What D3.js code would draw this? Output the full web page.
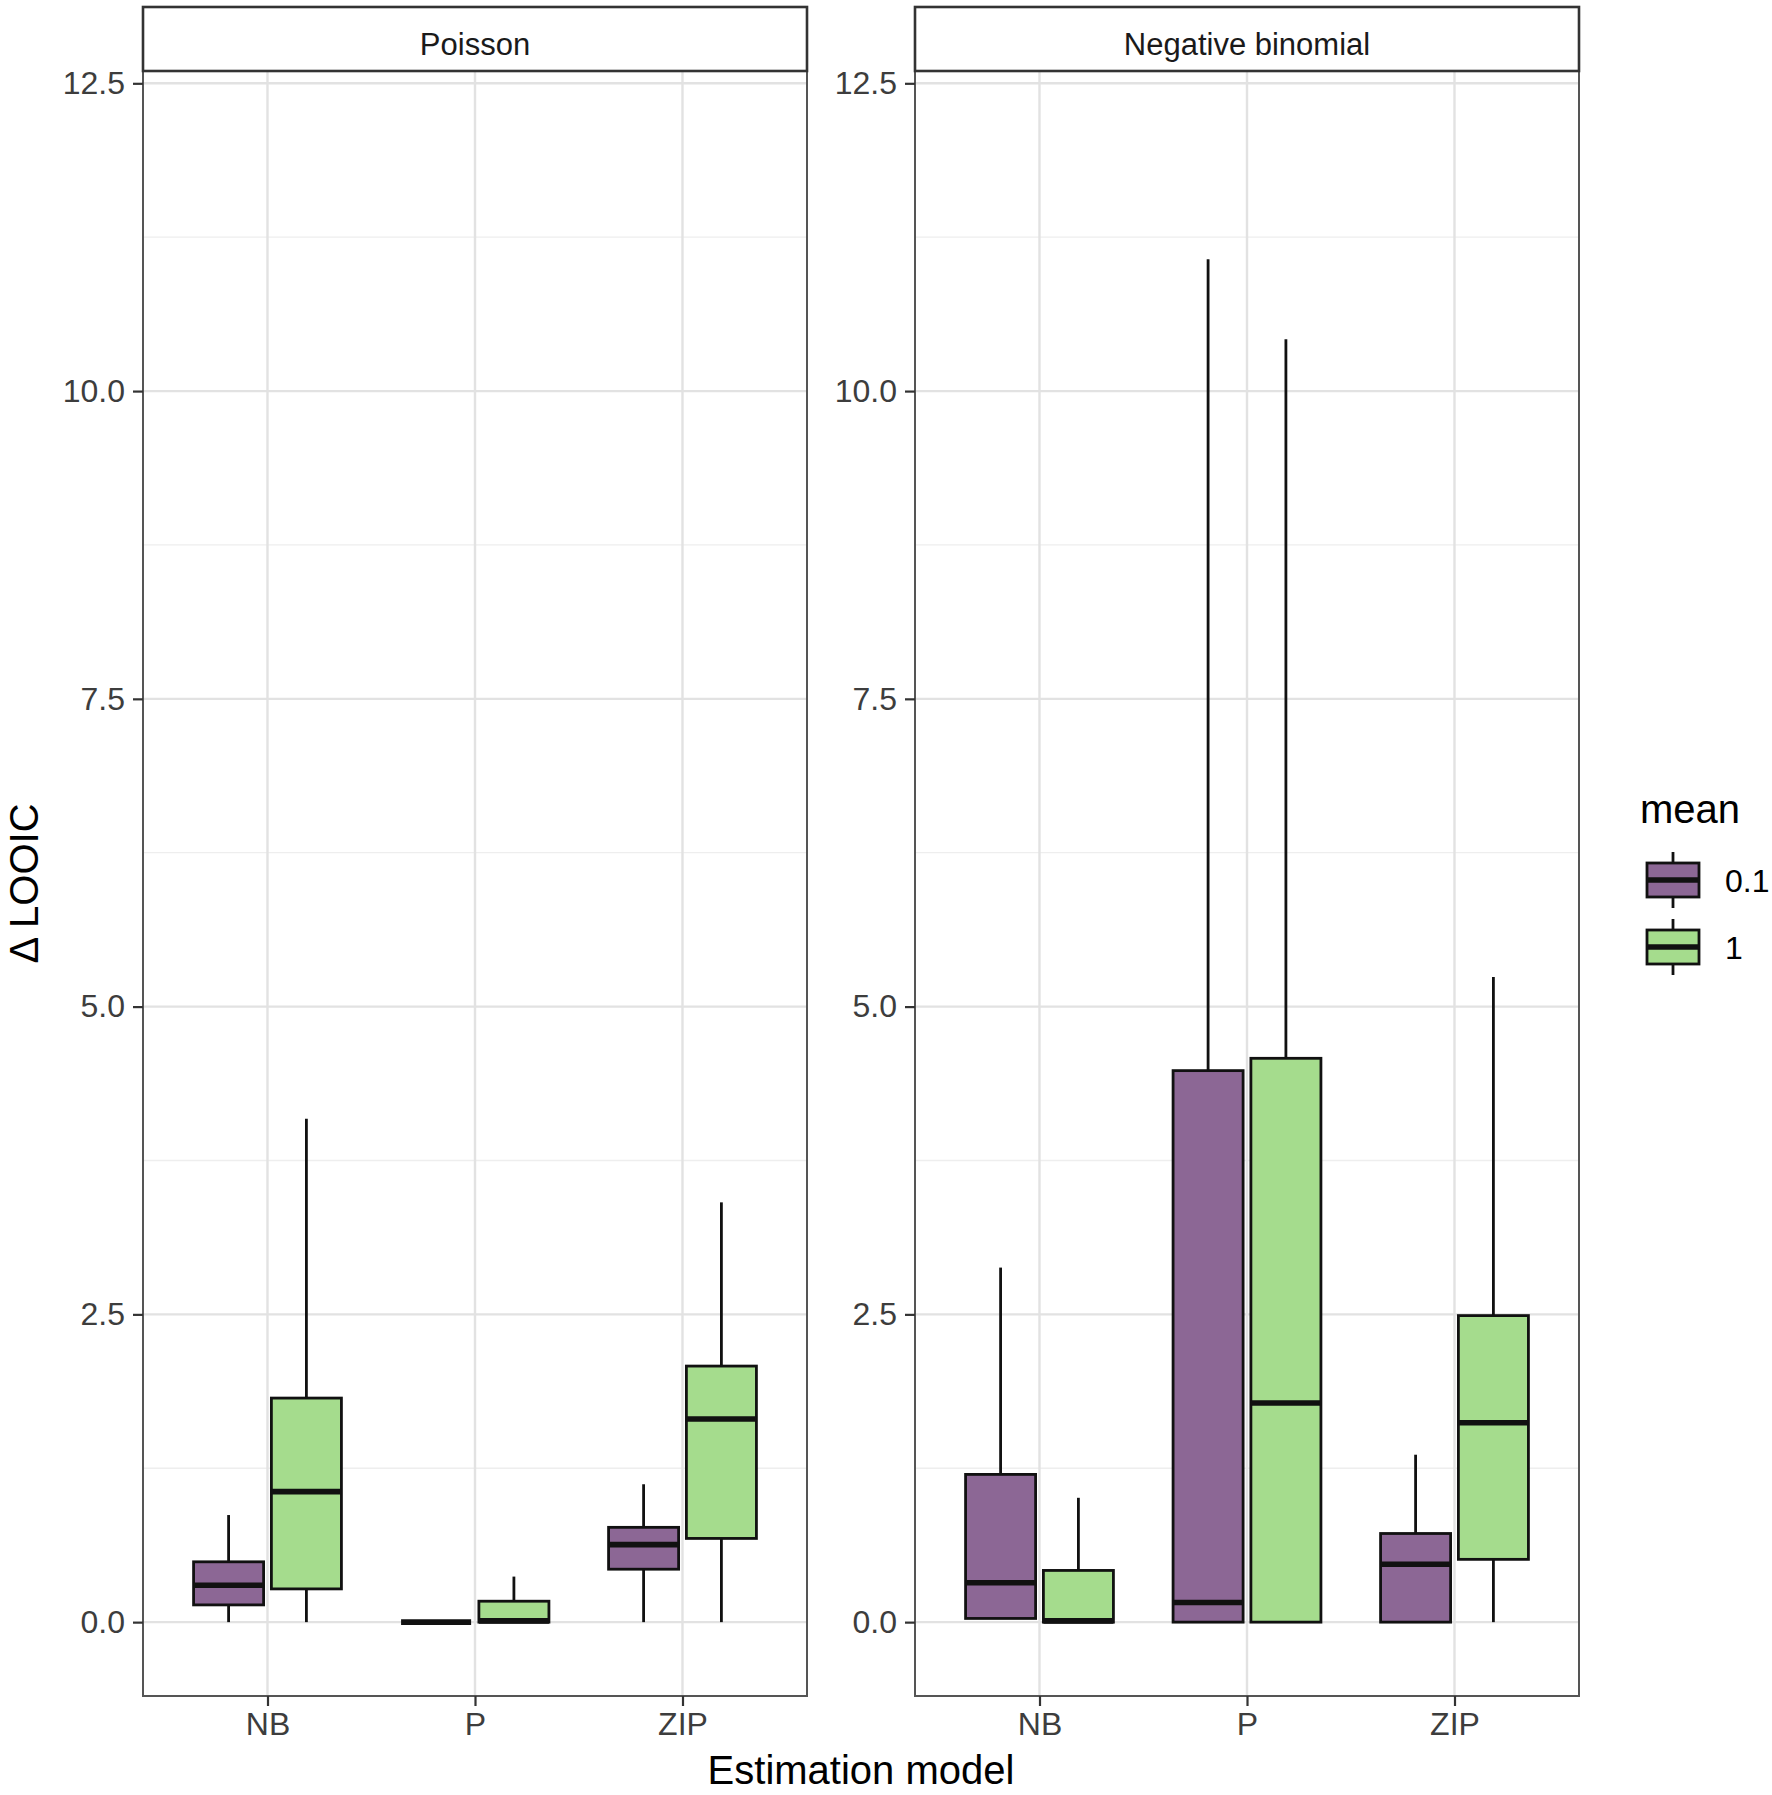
<!DOCTYPE html>
<html>
<head>
<meta charset="utf-8">
<script src="https://cdn.jsdelivr.net/npm/d3@7"></script>
<style>
  body { margin: 0; background: #fff; }
  text { font-family: 'Liberation Sans', Arial, Helvetica, sans-serif; }
</style>
</head>
<body>
<svg width="1772" height="1795"></svg>
<script>
const panels = ['Poisson', 'Negative binomial']
const models = ['NB', 'P', 'ZIP']
const means = ['0.1', '1']
const yTicks = [0, 2.5, 5, 7.5, 10, 12.5]
const yMinor = [1.25, 3.75, 6.25, 8.75, 11.25]
const meanColors = ['#8c6795', '#a5dc8d']

// box stats per model (NB, P, ZIP): [lower, q1, median, q3, upper]
const poissonMean01 = [[0, 0.14, 0.3, 0.49, 0.87], [0, 0, 0, 0, 0], [0, 0.43, 0.63, 0.77, 1.12]]
const poissonMean1 = [[0, 0.27, 1.06, 1.82, 4.09], [0, 0, 0.01, 0.17, 0.37], [0, 0.68, 1.65, 2.08, 3.41]]
const negbinMean01 = [[0.03, 0.03, 0.32, 1.2, 2.88], [0, 0, 0.16, 4.48, 11.07], [0, 0, 0.47, 0.72, 1.36]]
const negbinMean1 = [[0, 0, 0.01, 0.42, 1.01], [0, 0, 1.78, 4.58, 10.42], [0, 0.51, 1.62, 2.49, 5.24]]

const seriesByPanel = [[poissonMean01, poissonMean1], [negbinMean01, negbinMean1]]

let svg = d3.select('svg')
const panelX = [[143, 807], [915, 1579]]
const stripTop = 7
const panelTop = 71
const panelBottom = 1696

const y = d3.scaleLinear().domain([-0.6, 12.6]).range([panelBottom, panelTop])
const color = d3.scaleOrdinal(means, meanColors)

panels.forEach((name, p) => {
  const [x0, x1] = panelX[p]
  const x = d3.scalePoint().domain(models).range([x0, x1]).padding(0.6)
  const step = x.step()
  const dodge = d3.scalePoint().domain(means).range([-0.1875 * step, 0.1875 * step])
  const boxW = 0.3375 * step

  const g = svg.append('g')

  // grid
  g.selectAll('.minor')
    .data(yMinor)
    .enter()
    .append('line')
    .attr('x1', x0).attr('x2', x1)
    .attr('y1', d => y(d)).attr('y2', d => y(d))
    .attr('stroke', '#eeeeee')
    .attr('stroke-width', 1.3)
  g.selectAll('.major')
    .data(yTicks)
    .enter()
    .append('line')
    .attr('x1', x0).attr('x2', x1)
    .attr('y1', d => y(d)).attr('y2', d => y(d))
    .attr('stroke', '#e2e2e2')
    .attr('stroke-width', 2.4)
  g.selectAll('.vgrid')
    .data(models)
    .enter()
    .append('line')
    .attr('x1', d => x(d)).attr('x2', d => x(d))
    .attr('y1', panelTop).attr('y2', panelBottom)
    .attr('stroke', '#e2e2e2')
    .attr('stroke-width', 2.4)

  // boxes
  const rows = []
  means.forEach((m, k) => {
    seriesByPanel[p][k].forEach((s, i) => {
      rows.push({ model: models[i], mean: m, lower: s[0], q1: s[1], median: s[2], q3: s[3], upper: s[4] })
    })
  })

  const box = g.selectAll('.box')
    .data(rows)
    .enter()
    .append('g')
    .attr('transform', d => `translate(${x(d.model) + dodge(d.mean)},0)`)

  box.append('line')
    .attr('y1', d => y(d.q3)).attr('y2', d => y(d.upper))
    .attr('stroke', '#111').attr('stroke-width', 2.8)
  box.append('line')
    .attr('y1', d => y(d.lower)).attr('y2', d => y(d.q1))
    .attr('stroke', '#111').attr('stroke-width', 2.8)
  box.append('rect')
    .attr('x', -boxW / 2)
    .attr('width', boxW)
    .attr('y', d => y(d.q3))
    .attr('height', d => y(d.q1) - y(d.q3))
    .attr('fill', d => color(d.mean))
    .attr('stroke', '#111')
    .attr('stroke-width', 2.8)
  box.append('line')
    .attr('x1', -boxW / 2).attr('x2', boxW / 2)
    .attr('y1', d => y(d.median)).attr('y2', d => y(d.median))
    .attr('stroke', '#111').attr('stroke-width', 5.6)

  // panel border and strip
  g.append('rect')
    .attr('x', x0).attr('y', panelTop)
    .attr('width', x1 - x0).attr('height', panelBottom - panelTop)
    .attr('fill', 'none').attr('stroke', '#555').attr('stroke-width', 2)
  g.append('rect')
    .attr('x', x0).attr('y', stripTop)
    .attr('width', x1 - x0).attr('height', panelTop - stripTop)
    .attr('fill', '#fff').attr('stroke', '#333').attr('stroke-width', 2.6)
  g.append('text')
    .attr('x', (x0 + x1) / 2).attr('y', 55)
    .attr('text-anchor', 'middle')
    .attr('font-size', 31)
    .attr('fill', '#1a1a1a')
    .text(name)

  // axes
  const yAxis = g.append('g')
    .attr('transform', `translate(${x0},0)`)
    .call(d3.axisLeft(y).tickValues(yTicks).tickFormat(d3.format('.1f')).tickSize(10).tickPadding(8))
  const xAxis = g.append('g')
    .attr('transform', `translate(0,${panelBottom})`)
    .call(d3.axisBottom(x).tickSize(10).tickPadding(6))
  ;[yAxis, xAxis].forEach(a => {
    a.select('.domain').remove()
    a.selectAll('line').attr('stroke', '#333').attr('stroke-width', 2.2)
    a.selectAll('text').attr('font-size', 32).attr('fill', '#3d3d3d').style('font-family', "'Liberation Sans', Arial, sans-serif")
  })
})

// axis titles
svg.append('text')
  .attr('x', (panelX[0][0] + panelX[1][1]) / 2)
  .attr('y', 1784)
  .attr('text-anchor', 'middle')
  .attr('font-size', 40)
  .text('Estimation model')

svg.append('text')
  .attr('transform', `translate(38,${(panelTop + panelBottom) / 2}) rotate(-90)`)
  .attr('text-anchor', 'middle')
  .attr('font-size', 40)
  .text('Δ LOOIC')

// legend
const legend = svg.append('g').attr('transform', 'translate(1640,0)')
legend.append('text')
  .attr('x', 0).attr('y', 823)
  .attr('font-size', 40)
  .text('mean')

const keys = legend.selectAll('.key')
  .data(means)
  .enter()
  .append('g')
  .attr('transform', (d, i) => `translate(33,${880 + i * 67})`)

keys.append('line')
  .attr('y1', -28).attr('y2', 28)
  .attr('stroke', '#111').attr('stroke-width', 2.8)
keys.append('rect')
  .attr('x', -26).attr('y', -17)
  .attr('width', 52).attr('height', 34)
  .attr('fill', d => color(d))
  .attr('stroke', '#111').attr('stroke-width', 2.8)
keys.append('line')
  .attr('x1', -26).attr('x2', 26)
  .attr('stroke', '#111').attr('stroke-width', 5.6)
keys.append('text')
  .attr('x', 52)
  .attr('dy', '0.36em')
  .attr('font-size', 32)
  .text(d => d)
</script>
</body>
</html>
